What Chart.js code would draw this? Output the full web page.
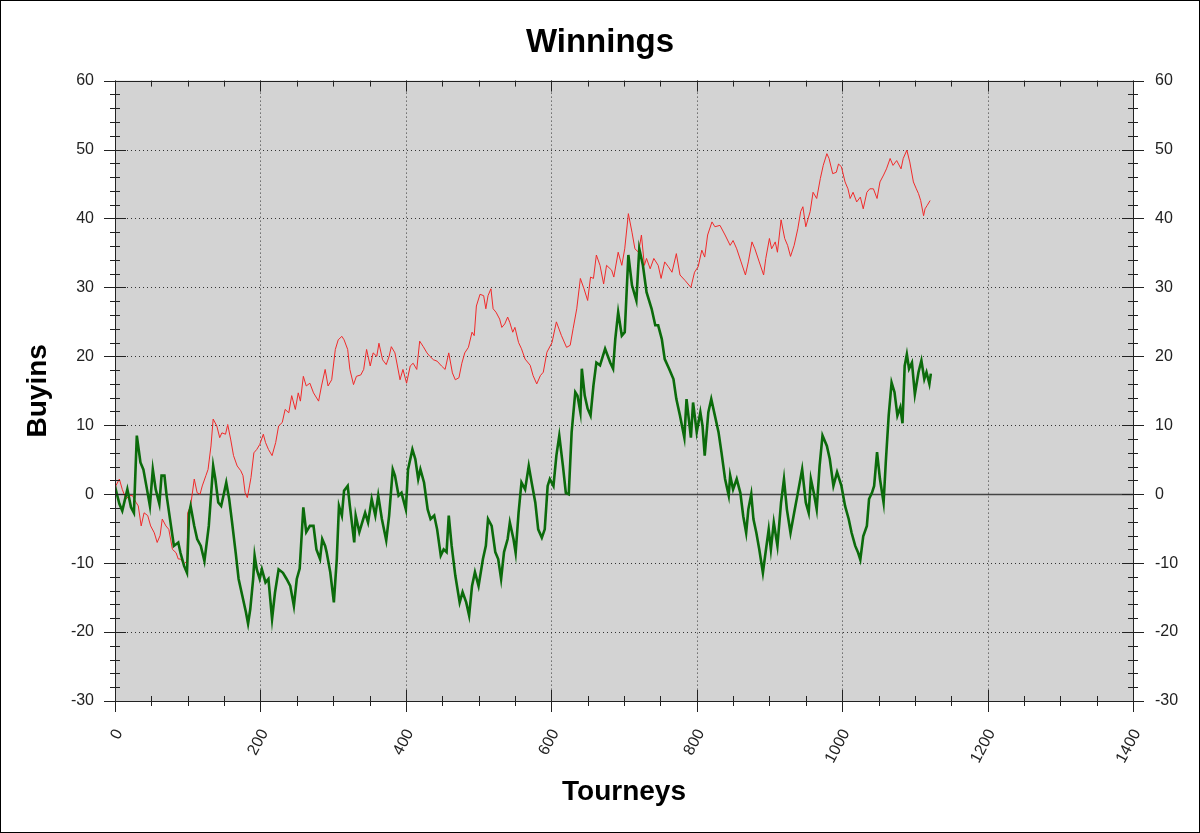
<!DOCTYPE html>
<html>
<head>
<meta charset="utf-8">
<title>Winnings</title>
<script src="https://cdn.jsdelivr.net/npm/chart.js@4.4.1/dist/chart.umd.min.js"></script>
<style>
  html, body { margin: 0; padding: 0; background: #fff; }
  canvas { display: block; }
</style>
</head>
<body>
<canvas id="grafico" width="1200" height="833"></canvas>
<script>
// Tourney numbers and cumulative buyins
const greenT = [0, 1, 6, 10, 17, 22, 26, 30, 35, 39, 44, 48, 52, 56, 61, 64, 68, 71, 77, 81, 87, 90, 95, 99, 102, 104, 109, 113, 118, 123, 129, 135, 138, 142, 146, 150, 153, 157, 161, 166, 170, 175, 180, 183, 186, 190, 192, 195, 199, 202, 207, 211, 216, 220, 225, 231, 236, 241, 246, 250, 254, 259, 263, 268, 273, 277, 282, 285, 289, 291, 296, 301, 305, 308, 312, 315, 320, 323, 329, 331, 336, 340, 344, 348, 353, 358, 362, 367, 373, 377, 382, 385, 390, 394, 400, 403, 409, 413, 417, 420, 425, 430, 434, 439, 443, 448, 452, 456, 459, 463, 468, 474, 478, 483, 487, 491, 495, 500, 506, 510, 513, 518, 523, 527, 531, 535, 540, 543, 548, 551, 555, 559, 564, 569, 573, 578, 582, 587, 591, 595, 598, 603, 607, 611, 616, 620, 624, 628, 633, 636, 640, 642, 646, 650, 654, 658, 662, 667, 674, 681, 685, 688, 692, 697, 701, 706, 711, 717, 721, 726, 731, 738, 743, 747, 752, 756, 762, 768, 772, 777, 783, 786, 792, 795, 800, 805, 808, 811, 816, 820, 825, 830, 834, 839, 844, 846, 850, 855, 860, 864, 868, 871, 875, 878, 882, 886, 891, 894, 899, 902, 906, 911, 916, 920, 924, 929, 934, 940, 945, 950, 954, 957, 961, 965, 969, 973, 979, 983, 988, 993, 999, 1004, 1009, 1013, 1018, 1022, 1025, 1029, 1034, 1037, 1041, 1044, 1048, 1052, 1057, 1060, 1064, 1068, 1072, 1076, 1080, 1083, 1086, 1089, 1092, 1096, 1100, 1105, 1109, 1113, 1116, 1120, 1122];
const greenV = [0, 0.7, -1.4, -2.4, 0.7, -1.9, -2.7, 8.5, 4.6, 3.6, 0.7, -1.7, 3.6, 0.7, -1.4, 2.7, 2.7, -0.2, -4.6, -7.5, -7, -8.5, -10.4, -11.4, -2.7, -1.7, -4.6, -6.5, -7.5, -9.7, -4.6, 4.1, 2.2, -1.2, -1.7, 0.2, 1.7, -0.7, -4.1, -8.5, -12.3, -14.7, -17.1, -18.8, -16.7, -12.3, -8.9, -10.9, -12.3, -10.9, -12.8, -12.3, -18.1, -14.3, -10.9, -11.4, -12.3, -13.3, -16.2, -12.3, -10.8, -1.9, -5.5, -4.6, -4.6, -8.0, -9.4, -6.5, -7.5, -8.4, -11.3, -15.7, -9.4, -1.7, -3.1, 0.5, 1.2, -1.7, -7, -3.1, -5.5, -4.1, -2.7, -4.1, -0.7, -3.1, -0.2, -3.6, -6.7, -3.1, 3.6, 2.7, -0.2, 0.2, -2.2, 3.6, 6.5, 5.1, 2.2, 3.6, 1.7, -2.2, -3.6, -3.1, -5.1, -8.9, -8, -8.4, -3.1, -7.5, -11.8, -15.7, -14.2, -15.7, -17.6, -13.3, -11.3, -13.3, -9.4, -7.5, -3.6, -4.6, -8.4, -9.4, -12.3, -8.4, -6.5, -4.1, -6.5, -8.5, -2.7, 1.7, 0.7, 4.1, 1.7, -1.2, -5.1, -6.3, -5.1, 1.2, 2.2, 1.2, 5.6, 8.5, 4.1, 0.2, 0, 9, 14.8, 14.3, 11.9, 18.2, 14.3, 12.4, 11.4, 15.8, 19.1, 18.7, 21.1, 19.1, 18.2, 22.5, 26.4, 23, 23.5, 34.7, 30.3, 28.1, 35.6, 33.2, 29.3, 26.9, 24.5, 24.5, 22.5, 19.6, 18.2, 16.7, 13.8, 11.4, 8.2, 13.8, 8.2, 13.3, 9, 11.9, 9.9, 5.6, 11.9, 13.8, 11.4, 9, 6.1, 2.2, -0.2, 2.7, 0.7, 2.2, 0.2, -3.2, -5.6, -2.2, 0, -3.6, -5.6, -8, -11.4, -9, -5.1, -8, -4.1, -7.5, -1.2, 2.2, -2.2, -5.6, -2.7, 0.7, 3.6, -1.2, -2.7, 2.2, 0.2, -2.2, 4.1, 8.5, 7, 5.1, 1.2, 3.2, 1.2, -1.7, -3.6, -5.6, -7.5, -8.5, -9.5, -6.1, -4.6, -0.7, 0.2, 1.2, 6.1, 2.2, -1.2, 4.6, 11.4, 16.2, 14.8, 11.4, 12.6, 10.3, 18.6, 20.3, 18.2, 19.1, 14.5, 17.7, 19.4, 16.7, 17.7, 16, 17.5];

const redT = [0, 1, 6, 10, 15, 20, 24, 29, 32, 36, 40, 45, 49, 54, 58, 62, 65, 70, 74, 79, 84, 87, 90, 95, 99, 100, 104, 109, 113, 117, 120, 125, 128, 132, 135, 140, 144, 147, 152, 155, 159, 163, 168, 173, 176, 179, 182, 185, 187, 191, 195, 199, 204, 207, 211, 216, 221, 225, 230, 234, 239, 243, 248, 252, 255, 259, 263, 268, 273, 280, 284, 289, 293, 298, 303, 307, 312, 315, 320, 323, 328, 332, 338, 342, 346, 351, 355, 360, 363, 368, 373, 377, 380, 385, 392, 396, 401, 406, 410, 415, 419, 424, 429, 433, 438, 443, 449, 454, 459, 464, 468, 473, 477, 481, 486, 491, 494, 497, 502, 507, 510, 513, 517, 520, 524, 529, 532, 536, 540, 543, 547, 550, 555, 559, 564, 571, 575, 580, 585, 589, 594, 601, 607, 614, 621, 626, 630, 635, 640, 645, 650, 654, 658, 662, 667, 672, 676, 683, 686, 692, 697, 701, 706, 711, 715, 720, 724, 728, 731, 736, 741, 747, 751, 756, 761, 766, 772, 777, 784, 792, 797, 802, 807, 811, 815, 821, 825, 832, 839, 846, 850, 855, 861, 867, 871, 876, 880, 886, 892, 895, 900, 903, 908, 911, 916, 921, 925, 929, 934, 939, 943, 946, 950, 956, 960, 965, 970, 974, 979, 982, 987, 992, 995, 999, 1004, 1008, 1011, 1015, 1020, 1025, 1029, 1034, 1038, 1043, 1048, 1052, 1057, 1061, 1066, 1070, 1075, 1081, 1084, 1089, 1093, 1098, 1102, 1105, 1108, 1112, 1114, 1117, 1121];
const redV = [0, 1.2, 2.2, 0.7, -0.7, -0.2, -0.2, -1.2, -1.7, -4.6, -2.7, -3.1, -4.6, -5.6, -7, -6, -3.6, -4.6, -5.1, -8, -8.5, -9.4, -9.4, -10.1, -9.7, -2.7, -1.7, 2.2, 0.2, 0, 1.2, 2.7, 3.6, 7, 10.9, 9.9, 8.2, 8.9, 8.7, 10.1, 8, 5.6, 4.1, 3.4, 2.7, 0.2, -0.5, 1.2, 2.4, 6, 6.5, 7.2, 8.7, 7.5, 6.5, 5.6, 7.5, 9.9, 10.4, 12.3, 11.8, 14.3, 12.3, 14.7, 13.5, 17.1, 15.7, 16.1, 14.7, 13.5, 15.7, 18.1, 15.7, 16.6, 21, 22.4, 22.9, 22.4, 21, 18.1, 15.9, 17.1, 17.3, 18.1, 21, 18.6, 20.5, 20, 21.9, 19.5, 18.8, 20, 21.4, 20.5, 16.6, 18.1, 16.1, 18.6, 19, 18.1, 22.2, 21.4, 20.5, 20, 19.5, 19.3, 18.6, 18.1, 20.5, 17.6, 16.6, 16.9, 19, 20.5, 21.3, 23.5, 23, 27.3, 29, 28.8, 26.9, 28.8, 29.8, 26.9, 26.4, 25.4, 24.2, 24.7, 25.7, 24.9, 23.5, 24.2, 22, 21.1, 19.6, 18.7, 17.2, 16, 17.2, 17.7, 20.6, 22, 25, 23, 21.3, 21.6, 24, 26.9, 31.3, 29.8, 28.1, 31.5, 31.3, 34.7, 33.2, 30.5, 33.2, 32.5, 31.5, 35.1, 33.2, 35.6, 40.7, 38, 35.6, 35.1, 37.6, 33.2, 34.2, 32.7, 34.2, 33.2, 31.3, 33.7, 33, 32.2, 34.9, 31.8, 31, 30, 32.2, 33, 35.4, 34.4, 37.6, 39.5, 38.8, 39, 37.6, 36.1, 36.8, 35.6, 33.7, 31.8, 33.7, 36.6, 35.6, 33.7, 31.8, 34.2, 37.1, 35.6, 36.6, 35.1, 39.8, 37.1, 36.1, 34.5, 36.1, 38.5, 41, 41.7, 38.8, 41, 43.8, 42.9, 45.8, 47.7, 49.4, 48.7, 46.5, 46.7, 47.9, 47.5, 45.3, 44.3, 42.9, 43.8, 42.4, 43.1, 41.4, 43.8, 44.3, 44.3, 42.9, 45.3, 46.3, 47.2, 48.7, 47.7, 48.4, 47.2, 48.7, 49.9, 48.2, 45.3, 44.3, 43.6, 42.6, 40.4, 41.4, 41.9, 42.6];

const FONT = "'Liberation Sans', Arial, sans-serif";

// fundo, grade pontilhada, linha do zero, moldura e marcas dos eixos
const moldura = {
    id: "moldura",
    beforeDraw(chart) {
        const { ctx, chartArea: a } = chart;
        ctx.save();
        ctx.fillStyle = "#ffffff";
        ctx.fillRect(0, 0, chart.width, chart.height);
        ctx.fillStyle = "#d3d3d3";
        ctx.fillRect(a.left, a.top, a.right - a.left, a.bottom - a.top);
        ctx.restore();
    },
    beforeDatasetsDraw(chart) {
        const { ctx, chartArea: a, scales: { x, y } } = chart;
        ctx.save();
        ctx.strokeStyle = "#333";
        ctx.lineWidth = 1;
        ctx.setLineDash([1, 3]);
        x.ticks.forEach(t => {
            const px = Math.round(x.getPixelForValue(t.value)) + 0.5;
            ctx.beginPath(); ctx.moveTo(px, a.top); ctx.lineTo(px, a.bottom); ctx.stroke();
        });
        y.ticks.forEach(t => {
            if (t.value === 0) return;
            const py = Math.round(y.getPixelForValue(t.value)) + 0.5;
            ctx.beginPath(); ctx.moveTo(a.left, py); ctx.lineTo(a.right, py); ctx.stroke();
        });
        ctx.setLineDash([]);
        ctx.strokeStyle = "#444";
        ctx.lineWidth = 1.3;
        const p0 = Math.round(y.getPixelForValue(0)) + 0.5;
        ctx.beginPath(); ctx.moveTo(a.left, p0); ctx.lineTo(a.right, p0); ctx.stroke();
        ctx.restore();
    },
    afterDraw(chart) {
        const { ctx, chartArea: a, scales: { x, y } } = chart;
        ctx.save();
        ctx.strokeStyle = "#222";
        ctx.lineWidth = 1;
        ctx.strokeRect(Math.round(a.left) + 0.5, Math.round(a.top) + 0.5,
            Math.round(a.right - a.left), Math.round(a.bottom - a.top));
        ctx.beginPath();
        for (let v = 0; v <= 1400; v += 50) {
            const px = Math.round(x.getPixelForValue(v)) + 0.5;
            const major = v % 200 === 0;
            const len = major ? 11 : 5;
            ctx.moveTo(px, a.bottom - len); ctx.lineTo(px, a.bottom + len);
            ctx.moveTo(px, a.top); ctx.lineTo(px, a.top + (major ? 11 : 6));
        }
        for (let v = -30; v <= 60; v += 2) {
            const py = Math.round(y.getPixelForValue(v)) + 0.5;
            const len = v % 10 === 0 ? 11 : 5;
            ctx.moveTo(a.left - len, py); ctx.lineTo(a.left + len, py);
            ctx.moveTo(a.right - len, py); ctx.lineTo(a.right + len, py);
        }
        ctx.stroke();
        // borda externa
        ctx.strokeStyle = "#000";
        ctx.strokeRect(0.5, 0.5, chart.width - 1, chart.height - 1);
        ctx.restore();
    }
};

const tickFont = { family: FONT, size: 16 };

new Chart(document.getElementById("grafico"), {
    type: "line",
    data: {
        datasets: [{
            label: "Green",
            data: greenT.map((t, i) => ({ x: t, y: greenV[i] })),
            borderColor: "#0b6b0b",
            borderWidth: 2.6,
            pointRadius: 0,
            tension: 0,
            fill: false
        }, {
            label: "Red",
            data: redT.map((t, i) => ({ x: t, y: redV[i] })),
            borderColor: "#f02a2a",
            borderWidth: 1,
            pointRadius: 0,
            tension: 0,
            fill: false
        }]
    },
    options: {
        responsive: false,
        animation: false,
        devicePixelRatio: 1,
        layout: { padding: 0 },
        scales: {
            x: {
                type: "linear",
                min: 0,
                max: 1400,
                grid: { display: false, drawTicks: false },
                border: { display: false },
                ticks: {
                    stepSize: 200,
                    autoSkip: false,
                    minRotation: 62,
                    maxRotation: 62,
                    padding: 25,
                    labelOffset: 4,
                    color: "#222",
                    font: tickFont,
                    callback: v => String(v)
                },
                title: {
                    display: true,
                    text: "Tourneys",
                    color: "#000",
                    font: { family: FONT, size: 28, weight: "bold" },
                    padding: { top: 0, bottom: 24 }
                },
                afterFit(scale) { scale.height = 132; }
            },
            y: {
                position: "left",
                min: -30,
                max: 60,
                grid: { display: false, drawTicks: false },
                border: { display: false },
                ticks: { stepSize: 10, padding: 21, color: "#222", font: tickFont },
                title: {
                    display: true,
                    text: "Buyins",
                    color: "#000",
                    font: { family: FONT, size: 28, weight: "bold" },
                    padding: { top: 21, bottom: 0 }
                },
                afterFit(scale) { scale.width = 115; }
            },
            y2: {
                position: "right",
                min: -30,
                max: 60,
                grid: { display: false, drawTicks: false },
                border: { display: false },
                ticks: { stepSize: 10, padding: 22, color: "#222", font: tickFont },
                afterFit(scale) { scale.width = 67; }
            }
        },
        plugins: {
            legend: { display: false },
            tooltip: { enabled: false },
            title: {
                display: true,
                text: "Winnings",
                color: "#000",
                font: { family: FONT, size: 33, weight: "bold" },
                padding: { top: 23, bottom: 18 }
            }
        }
    },
    plugins: [moldura]
});
</script>
</body>
</html>
